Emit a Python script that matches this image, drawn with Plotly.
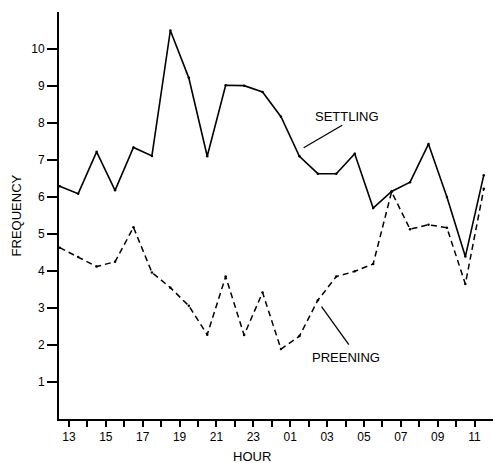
import plotly.graph_objects as go

# Hours (half-hour midpoints, continuing past midnight as 24+)
hours = [12.5, 13.5, 14.5, 15.5, 16.5, 17.5, 18.5, 19.5, 20.5, 21.5, 22.5, 23.5,
         24.5, 25.5, 26.5, 27.5, 28.5, 29.5, 30.5, 31.5, 32.5, 33.5, 34.5, 35.5]

settling = [6.29, 6.09, 7.22, 6.18, 7.34, 7.11, 10.50, 9.22, 7.10, 9.02, 9.01, 8.84,
            8.17, 7.10, 6.63, 6.63, 7.17, 5.70, 6.15, 6.40, 7.43, 6.00, 4.39, 6.59]

preening = [4.63, 4.38, 4.12, 4.25, 5.18, 3.96, 3.55, 3.06, 2.28, 3.85, 2.27, 3.42,
            1.89, 2.24, 3.21, 3.85, 3.99, 4.19, 6.14, 5.13, 5.25, 5.17, 3.65, 6.22]

tick_hours = list(range(13, 36))
tick_labels = [("%02d" % (h % 24)) if (h % 2 == 1) else "" for h in tick_hours]

y_ticks = [1, 2, 3, 4, 5, 6, 7, 8, 9, 10]

FONT = "Liberation Sans"

fig = go.Figure()
fig.add_trace(go.Scatter(x=hours, y=settling, mode="lines+markers",
                         line=dict(color="black", width=1.6),
                         marker=dict(color="black", size=2.5),
                         name="SETTLING", showlegend=False, cliponaxis=False))
fig.add_trace(go.Scatter(x=hours, y=preening, mode="lines+markers",
                         line=dict(color="black", width=1.5, dash="6px,4px"),
                         marker=dict(color="black", size=2.5),
                         name="PREENING", showlegend=False, cliponaxis=False))

# leader lines
fig.add_shape(type="line", xref="x", yref="y", x0=27.82, y0=7.94, x1=25.73, y1=7.33,
              line=dict(color="black", width=1.3))
fig.add_shape(type="line", xref="x", yref="y", x0=26.70, y0=3.04, x1=28.18, y1=2.01,
              line=dict(color="black", width=1.3))

fig.add_annotation(x=28.1, y=8.18, xref="x", yref="y", text="SETTLING", showarrow=False,
                   xanchor="center", yanchor="middle",
                   font=dict(family=FONT, size=13, color="black"))
fig.add_annotation(x=28.0, y=1.65, xref="x", yref="y", text="PREENING", showarrow=False,
                   xanchor="center", yanchor="middle",
                   font=dict(family=FONT, size=13, color="black"))

fig.add_annotation(x=-0.097, y=0.5, xref="paper", yref="paper", text="FREQUENCY",
                   textangle=-90, showarrow=False, xanchor="center", yanchor="middle",
                   font=dict(family=FONT, size=13, color="black"))
fig.add_annotation(x=0.445, y=-0.091, xref="paper", yref="paper", text="HOUR",
                   showarrow=False, xanchor="center", yanchor="middle",
                   font=dict(family=FONT, size=13, color="black"))

fig.update_xaxes(range=[12.46, 36.0], tickmode="array", tickvals=tick_hours,
                 ticktext=tick_labels, ticks="outside", ticklen=6, tickwidth=1.5,
                 tickcolor="black", showline=True, linecolor="black", linewidth=2,
                 showgrid=False, zeroline=False, automargin=False,
                 tickfont=dict(family=FONT, size=12, color="black"))
fig.update_yaxes(range=[0, 11], tickmode="array", tickvals=y_ticks,
                 ticks="outside", ticklen=10, tickwidth=1.5, tickcolor="black",
                 showline=True, linecolor="black", linewidth=2,
                 showgrid=False, zeroline=False, automargin=False,
                 tickfont=dict(family=FONT, size=12, color="black"))

fig.update_layout(width=495, height=463, margin=dict(l=59, r=2, t=12, b=44),
                  plot_bgcolor="white", paper_bgcolor="white",
                  font=dict(family=FONT, color="black"))

fig.write_html("out.html", config={"displayModeBar": False},
               post_script="document.body.style.margin='0';document.body.style.padding='0';"
                           "document.body.style.overflow='hidden';")
